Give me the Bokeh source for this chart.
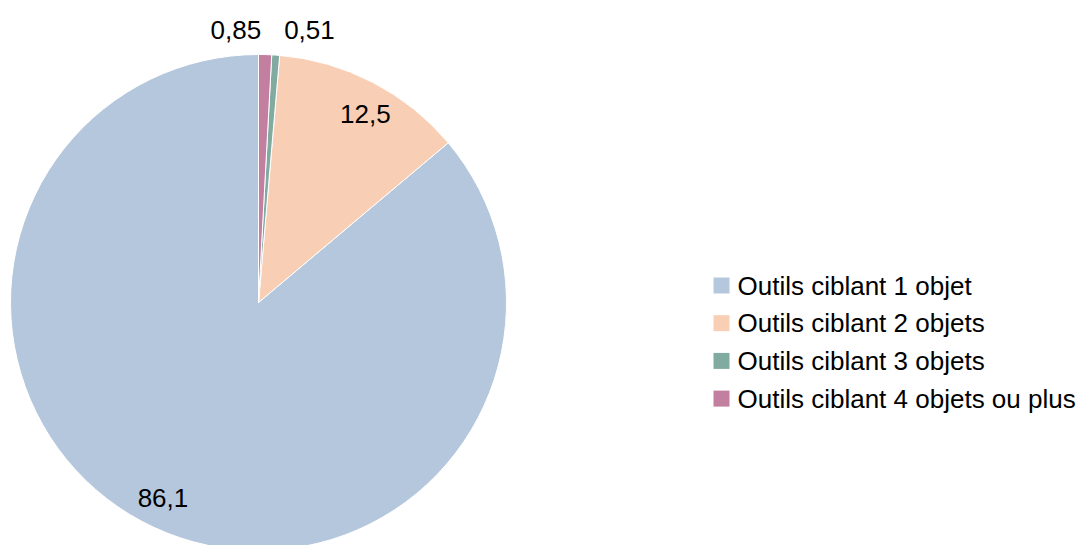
import math
from bokeh.plotting import figure
from bokeh.models import ColumnDataSource, Range1d
from bokeh.core.properties import value
from bokeh.embed import file_html
from bokeh.resources import INLINE

categories = ["Outils ciblant 1 objet", "Outils ciblant 2 objets",
              "Outils ciblant 3 objets", "Outils ciblant 4 objets ou plus"]
values = [86.1, 12.5, 0.51, 0.85]
colors = ["#b4c7dc", "#f8cfb4", "#81aba1", "#c27fa0"]

W, H = 1083, 545
FONT = "Liberation Sans"
FS = "26px"

p = figure(width=W, height=H, x_range=Range1d(0, W), y_range=Range1d(0, H),
           output_backend="svg", toolbar_location=None, min_border=0)
p.axis.visible = False
p.grid.visible = False
p.outline_line_color = None
p.background_fill_color = "white"

cx, cy, R = 258, H - 302, 248
total = sum(values)
starts, ends = [], []
a = math.pi / 2
for v in values:
    starts.append(a)
    a += v / total * 2 * math.pi
    ends.append(a)

src = ColumnDataSource(dict(start=starts, end=ends, color=colors, cat=categories))
p.wedge(x=cx, y=cy, radius=R, start_angle="start", end_angle="end",
        direction="anticlock", fill_color="color", line_color="white",
        line_width=1, source=src)

# data labels
label_r = [0.875, 0.875, 1.1, 1.1]
x_off = [-4, 7, 32, -30]
y_off = [-1, 4, 0, 0]
lx, ly, txt = [], [], []
for i, v in enumerate(values):
    mid = (starts[i] + ends[i]) / 2
    lx.append(cx + label_r[i] * R * math.cos(mid))
    ly.append(cy + label_r[i] * R * math.sin(mid))
    txt.append(f"{v}".replace(".", ","))
p.text(x=lx, y=ly, text=txt, x_offset=x_off, y_offset=y_off, text_align="center",
       text_baseline="middle", text_font=value(FONT), text_font_size=FS,
       text_color="black")

# legend
leg_x, leg_y0, leg_dy, sq = 713, H - 285, 37.7, 16
rx = [leg_x + sq / 2] * 4
ry = [leg_y0 - i * leg_dy for i in range(4)]
p.rect(x=rx, y=ry, width=sq, height=sq, fill_color=colors, line_color=None)
p.text(x=[leg_x + sq + 8] * 4, y=ry, text=categories, text_align="left",
       text_baseline="middle", text_font=value(FONT), text_font_size=FS,
       text_color="black")

open("out.html", "w").write(file_html(p, INLINE))
